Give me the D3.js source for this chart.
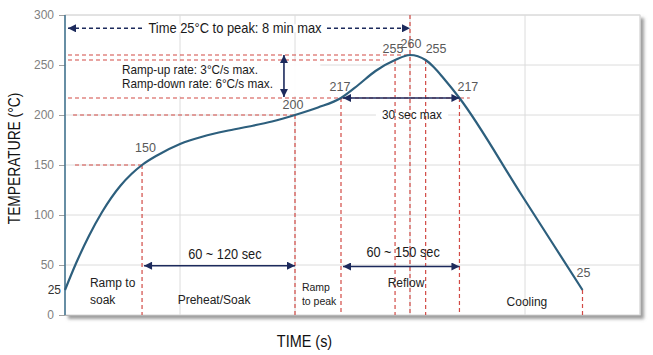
<!DOCTYPE html>
<html><head><meta charset="utf-8">
<script src="https://cdn.jsdelivr.net/npm/d3@7"></script>
<style>
body{margin:0;background:#fff;}
svg{display:block;font-family:"Liberation Sans",Arial,Helvetica,sans-serif;}
</style>
</head><body>
<svg id="c" width="653" height="355"></svg>
<script>
// ---------- data ----------
const profileTime = [0, 10, 21, 32, 48, 58, 67, 80, 100, 120, 140, 160, 180, 200, 220, 240, 255, 270, 287, 300, 313.6, 321, 329, 343, 396.5, 450];
const profileTemp = [25, 52.7, 79.5, 102.5, 129, 141.2, 150, 159.5, 171, 178.5, 184, 188.5, 193.5, 200, 207.5, 217, 230, 244, 255, 260, 255, 247.5, 237, 217, 121, 25];

const yTicks = [0, 50, 100, 150, 200, 250, 300];
const xGridTimes = [100, 200, 300, 400, 500];

const keyTimes  = [67, 200, 240, 287, 300, 313.6, 343, 450];
const keyTemps  = [150, 200, 217, 255, 260, 255, 217, 25];
const keyLabels = ["150", "200", "217", "255", "260", "255", "217", "25"];

const refTemps     = [260, 255, 217, 200, 150];
const refFromTimes = [2.6, 2.6, 2.6, 7, 8.7];
const refToTimes   = [300, 277, 352, 200, 67];

const rangeLabels = ["60 ~ 120 sec", "60 ~ 150 sec", "30 sec max"];
const rangeFrom   = [67, 240, 240];
const rangeTo     = [200, 343, 343];
const rangeTemp   = [49.3, 48.5, 217];

const peakArrowLabel = "Time 25°C to peak: 8 min max";
const peakArrowFrom = 2.6, peakArrowTo = 300, peakArrowTemp = 286.7;

const rateLines = ["Ramp-up rate: 3°C/s max.", "Ramp-down rate: 6°C/s max."];
const rateArrowTime = 190.4, rateArrowTop = 260, rateArrowBottom = 218;

const phaseLines = [["Ramp to", "soak"], ["Preheat/Soak"], ["Ramp", "to peak"], ["Reflow"], ["Cooling"]];
const phaseTimes = [21.7, 129.6, 206, 296.5, 401.7];
const phaseTemps = [[28, 11], [11], [24.5, 10.5], [28], [9]];

const startLabel = "25";
const xTitle = "TIME (s)";
const yTitle = "TEMPERATURE (°C)";

// ---------- setup ----------
const svg = d3.select("#c");
const W = 653, H = 355;
const m = {left: 65, right: 13, top: 15, bottom: 40};
const x = d3.scaleLinear().domain([0, 500]).range([m.left, W - m.right]);
const y = d3.scaleLinear().domain([0, 300]).range([H - m.bottom, m.top]);

const NAVY = "#1c2a5c", RED = "#d24a45", CURVE = "#2d5f7d";

const defs = svg.append("defs");
const f = defs.append("filter").attr("id", "sh").attr("x", "-5%").attr("y", "-5%").attr("width", "115%").attr("height", "115%");
f.append("feDropShadow").attr("dx", 3.5).attr("dy", 3.5).attr("stdDeviation", 1.4)
  .attr("flood-color", "#8c8c8c").attr("flood-opacity", 0.85);
defs.append("marker").attr("id", "ah").attr("viewBox", "0 0 10 10")
  .attr("refX", 10).attr("refY", 5).attr("markerWidth", 9).attr("markerHeight", 8)
  .attr("markerUnits", "userSpaceOnUse").attr("orient", "auto-start-reverse")
  .append("path").attr("d", "M0,0 L10,5 L0,10 Z").attr("fill", NAVY);

function squeeze(sel, k) {
  sel.each(function () {
    const L = this.getComputedTextLength();
    this.setAttribute("textLength", L * k);
    this.setAttribute("lengthAdjust", "spacingAndGlyphs");
  });
  return sel;
}

// plot background with shadow
svg.append("rect")
  .attr("x", x(0)).attr("y", y(300))
  .attr("width", x(500) - x(0)).attr("height", y(0) - y(300))
  .attr("fill", "#fff").attr("stroke", "#d4d4d4").attr("stroke-width", 1)
  .attr("filter", "url(#sh)");

const gGrid = svg.append("g");
gGrid.selectAll("line.h").data(yTicks.filter(d => d > 0)).join("line")
  .attr("x1", x(0)).attr("x2", x(500)).attr("y1", d => y(d)).attr("y2", d => y(d))
  .attr("stroke", "#dcdcdc").attr("stroke-width", 1);
gGrid.selectAll("line.v").data(xGridTimes).join("line")
  .attr("x1", d => x(d)).attr("x2", d => x(d)).attr("y1", y(0)).attr("y2", y(300))
  .attr("stroke", "#dcdcdc").attr("stroke-width", 1);

// white boxes behind some annotations (below guides)
const gBox = svg.append("g");
gBox.append("rect").attr("x", x(1)).attr("y", y(253.5))
  .attr("width", x(222) - x(1)).attr("height", y(219) - y(253.5))
  .attr("fill", "#fff").attr("opacity", 0.9);

// y axis
const yAxis = svg.append("g").attr("transform", `translate(${x(0)},0)`)
  .call(d3.axisLeft(y).tickValues(yTicks).tickSize(6).tickPadding(5));
yAxis.select(".domain").remove();
yAxis.selectAll(".tick line").attr("stroke", "#a0a0a0");
yAxis.selectAll(".tick text").attr("fill", "#7f7f7f").attr("font-size", 12)
  .attr("font-family", '"Liberation Sans",Arial,sans-serif');
svg.append("line").attr("x1", x(0)).attr("x2", x(0)).attr("y1", y(0)).attr("y2", y(300))
  .attr("stroke", "#3b6f8d").attr("stroke-width", 1.5);
svg.append("line").attr("x1", x(0)).attr("x2", x(500)).attr("y1", y(0) + 0.5).attr("y2", y(0) + 0.5)
  .attr("stroke", "#b5b5b5").attr("stroke-width", 1.2);

// red dashed guide lines
const gGuide = svg.append("g").attr("stroke", RED).attr("stroke-width", 1.2).attr("stroke-dasharray", "4,3").attr("fill", "none");
refTemps.forEach((T, i) => {
  gGuide.append("line").attr("x1", x(refFromTimes[i])).attr("x2", x(refToTimes[i]))
    .attr("y1", y(T)).attr("y2", y(T));
});
keyTimes.forEach((t, i) => {
  const top = keyTemps[i] === 260 ? 300 : keyTemps[i];
  gGuide.append("line").attr("x1", x(t)).attr("x2", x(t)).attr("y1", y(top)).attr("y2", y(0));
});

// curve
const pts = profileTime.map((t, i) => [t, profileTemp[i]]);
svg.append("path").datum(pts)
  .attr("d", d3.line().x(d => x(d[0])).y(d => y(d[1])).curve(d3.curveMonotoneX))
  .attr("fill", "none").attr("stroke", CURVE).attr("stroke-width", 2.2);

// arrows
const gArr = svg.append("g").attr("stroke", NAVY).attr("stroke-width", 1.6);
gArr.append("line").attr("x1", x(peakArrowFrom)).attr("x2", x(peakArrowTo))
  .attr("y1", y(peakArrowTemp)).attr("y2", y(peakArrowTemp))
  .attr("stroke-dasharray", "4,3")
  .attr("marker-start", "url(#ah)").attr("marker-end", "url(#ah)");
gArr.append("line").attr("x1", x(rateArrowTime)).attr("x2", x(rateArrowTime))
  .attr("y1", y(rateArrowTop)).attr("y2", y(rateArrowBottom))
  .attr("marker-start", "url(#ah)").attr("marker-end", "url(#ah)");
rangeLabels.forEach((lab, i) => {
  gArr.append("line").attr("x1", x(rangeFrom[i]) + 2).attr("x2", x(rangeTo[i]))
    .attr("y1", y(rangeTemp[i])).attr("y2", y(rangeTemp[i]))
    .attr("marker-start", "url(#ah)").attr("marker-end", "url(#ah)");
});

// texts
const gTxt = svg.append("g").attr("fill", "#1a1a1a");

// peak time label with white background
const pt = gTxt.append("text").attr("x", x(147.8)).attr("y", y(281.7))
  .attr("text-anchor", "middle").attr("font-size", 15).text(peakArrowLabel);
squeeze(pt, 0.86);
{
  const b = pt.node().getBBox();
  gTxt.insert("rect", "text").attr("x", b.x - 4).attr("y", y(peakArrowTemp) - 4)
    .attr("width", b.width + 8).attr("height", 8).attr("fill", "#fff");
}

// ramp-rate text
rateLines.forEach((s, i) => {
  const t = gTxt.append("text").attr("x", x(49.6)).attr("y", y(i === 0 ? 241.5 : 226.7))
    .attr("font-size", 13.5).text(s);
  squeeze(t, 0.87);
});

// range labels
const rangeLabelTimes = [139, 294, 301.7];
const rangeLabelTemps = [55.7, 57.7, 196];
rangeLabels.forEach((s, i) => {
  const t = gTxt.append("text").attr("x", x(rangeLabelTimes[i])).attr("y", y(rangeLabelTemps[i]))
    .attr("text-anchor", "middle").attr("font-size", i === 2 ? 13.5 : 14.5).text(s);
  squeeze(t, i === 2 ? 0.87 : 0.88);
  if (i === 2) {
    const b = t.node().getBBox();
    gBox.append("rect").attr("x", b.x - 6).attr("y", b.y).attr("width", b.width + 12).attr("height", b.height)
      .attr("fill", "#fff");
  }
});

// phase labels
phaseLines.forEach((lines, i) => {
  lines.forEach((s, j) => {
    gTxt.append("text").attr("x", x(phaseTimes[i])).attr("y", y(phaseTemps[i][j]))
      .attr("text-anchor", i === 0 || i === 2 ? "start" : "middle")
      .attr("font-size", i === 2 ? 10.5 : 12).attr("fill", "#222").text(s);
  });
});

// key point labels
const keyAnchor = ["middle", "middle", "middle", "middle", "middle", "start", "start", "middle"];
const keyDx = [3.5, -2, -1, -2, 1, 0, -2, 1];
const keyDy = [-13, -6, -7, -7, -7, -7, -7, -13];
keyLabels.forEach((s, i) => {
  gTxt.append("text").attr("x", x(keyTimes[i]) + keyDx[i]).attr("y", y(keyTemps[i]) + keyDy[i])
    .attr("text-anchor", keyAnchor[i]).attr("font-size", 12.5).attr("fill", "#595959").text(s);
});

// start "25" tick label
gTxt.append("text").attr("x", x(0) - 4).attr("y", y(25) + 4).attr("text-anchor", "end")
  .attr("font-size", 12).attr("fill", "#333").text(startLabel);

// axis titles
const xt = gTxt.append("text").attr("x", 304.5).attr("y", 346.5).attr("text-anchor", "middle")
  .attr("font-size", 17).attr("fill", "#111").text(xTitle);
squeeze(xt, 0.85);
const yt = gTxt.append("text").attr("transform", "translate(20,158.5) rotate(-90)")
  .attr("text-anchor", "middle").attr("font-size", 17).attr("fill", "#111").text(yTitle);
squeeze(yt, 0.81);
</script>
</body></html>
